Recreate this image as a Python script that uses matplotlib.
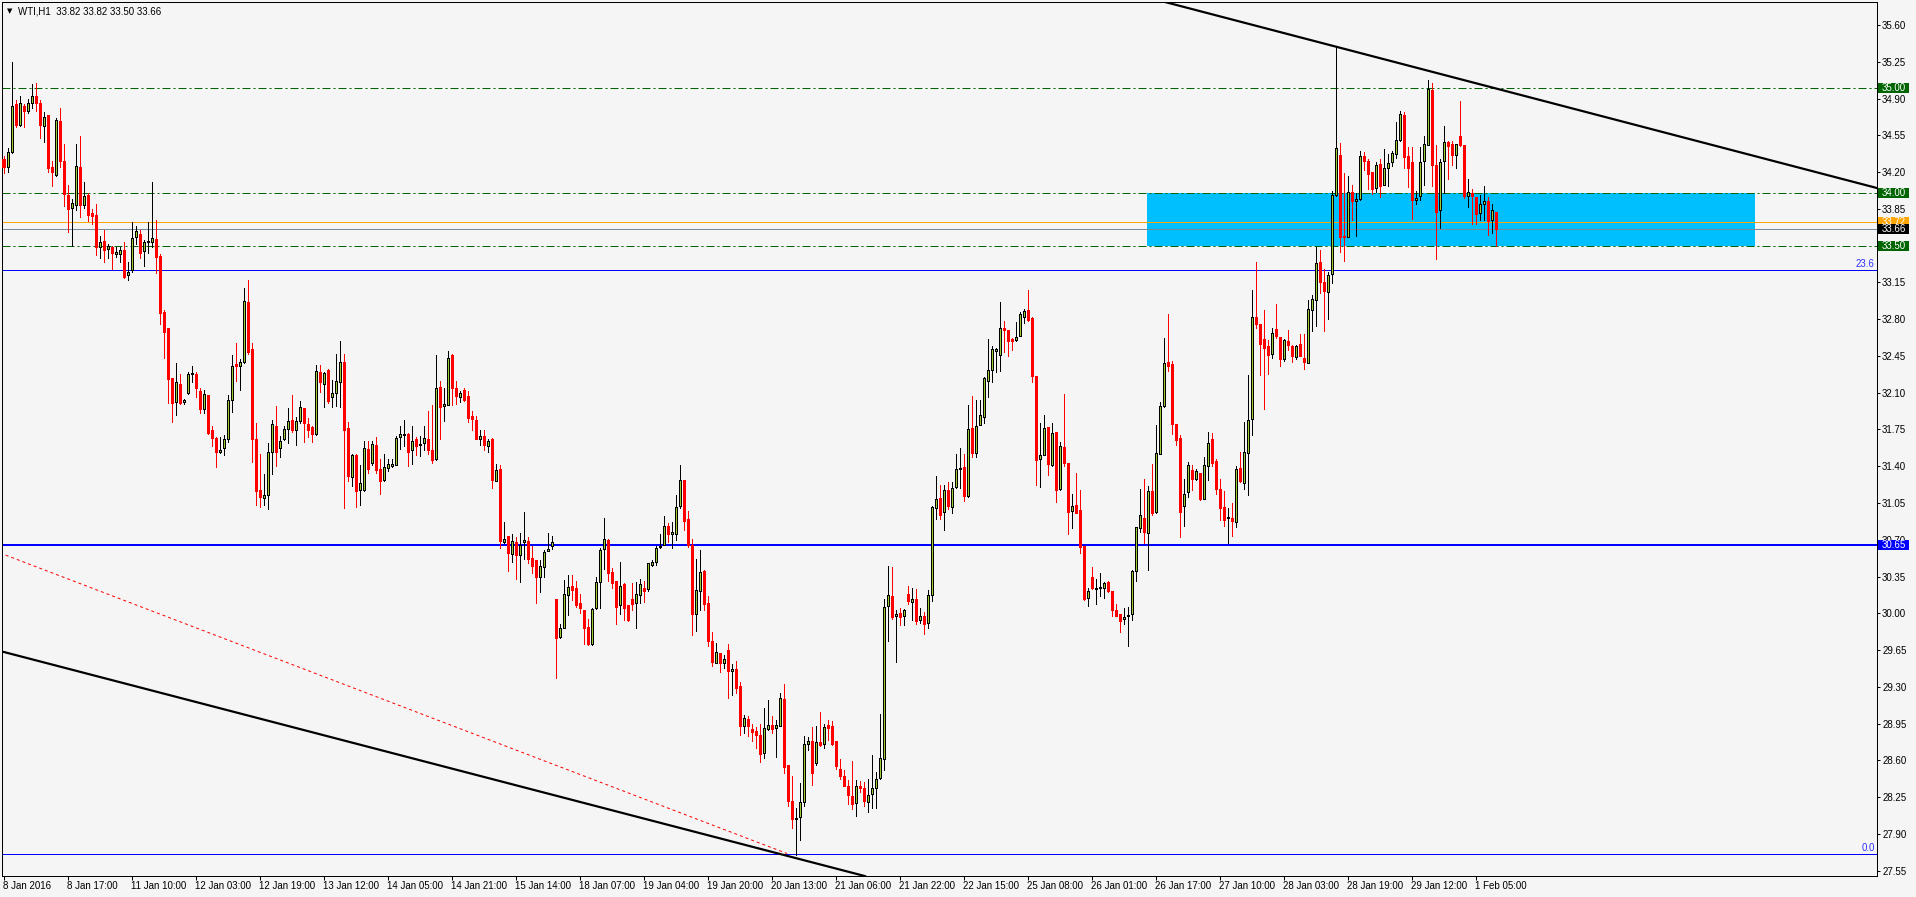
import numpy as np
import matplotlib
matplotlib.use('Agg')
import matplotlib.pyplot as plt
import matplotlib.transforms as mtransforms
from matplotlib.patches import Rectangle

# WTI H1, 374 barras (8 Jan 2016 -> 1 Feb 2016)
opens = [
    34.32, 34.25, 34.39, 34.85, 34.65, 34.83, 34.78, 34.86, 34.92, 34.86,
    34.64, 34.74, 34.25, 34.17, 34.69, 34.31, 33.98, 33.86, 33.89, 34.25,
    33.89, 33.98, 33.81, 33.79, 33.49, 33.54, 33.47, 33.49, 33.42, 33.42,
    33.46, 33.22, 33.27, 33.58, 33.61, 33.45, 33.53, 33.53, 33.56, 33.40,
    32.87, 32.72, 32.24, 32.01, 32.18, 32.01, 32.10, 32.28, 32.28, 32.12,
    31.94, 32.08, 31.74, 31.67, 31.54, 31.57, 31.66, 32.03, 32.37, 32.35,
    32.39, 32.96, 32.52, 31.66, 31.17, 31.10, 31.13, 31.54, 31.78, 31.57,
    31.66, 31.75, 31.84, 31.74, 31.83, 31.95, 31.80, 31.77, 31.71, 32.30,
    32.18, 32.32, 32.06, 32.10, 32.20, 32.39, 31.76, 31.30, 31.51, 31.17,
    31.17, 31.56, 31.43, 31.60, 31.37, 31.27, 31.38, 31.40, 31.41, 31.68,
    31.70, 31.71, 31.55, 31.66, 31.60, 31.62, 31.66, 31.55, 31.47, 32.15,
    31.97, 31.98, 32.46, 32.14, 32.06, 32.13, 32.07, 31.88, 31.84, 31.66,
    31.69, 31.59, 31.66, 31.26, 31.37, 30.68, 30.74, 30.56, 30.68, 30.55,
    30.68, 30.69, 30.53, 30.51, 30.35, 30.44, 30.59, 30.64, 30.14, 29.77,
    29.86, 30.17, 30.26, 30.24, 30.10, 30.03, 29.87, 29.71, 30.05, 30.30,
    30.61, 30.70, 30.39, 30.31, 30.08, 30.28, 30.08, 30.14, 30.10, 30.17,
    30.24, 30.23, 30.46, 30.49, 30.63, 30.65, 30.83, 30.75, 30.75, 31.02,
    31.27, 30.90, 30.65, 29.99, 30.21, 30.40, 30.10, 29.74, 29.53, 29.62,
    29.53, 29.65, 29.45, 29.47, 29.31, 28.93, 28.99, 28.90, 28.88, 28.84,
    28.67, 28.90, 28.94, 28.91, 28.93, 29.18, 28.56, 28.21, 28.04, 28.06,
    28.20, 28.76, 28.78, 28.57, 28.77, 28.76, 28.94, 28.93, 28.78, 28.52,
    28.45, 28.36, 28.26, 28.19, 28.36, 28.34, 28.20, 28.28, 28.34, 28.43,
    28.61, 30.07, 30.16, 29.97, 30.00, 29.97, 30.18, 30.11, 30.14, 29.94,
    29.97, 29.91, 30.17, 31.00, 31.10, 30.96, 31.17, 31.01, 31.20, 31.37,
    31.39, 31.12, 31.76, 31.53, 31.79, 31.87, 32.21, 32.32, 32.50, 32.46,
    32.72, 32.70, 32.61, 32.60, 32.64, 32.82, 32.89, 32.81, 32.26, 31.47,
    31.51, 31.77, 31.41, 31.73, 31.18, 31.58, 31.43, 30.97, 31.03, 30.98,
    30.64, 30.15, 30.35, 30.23, 30.24, 30.24, 30.30, 30.21, 30.03, 29.99,
    29.95, 29.97, 29.99, 30.40, 30.81, 30.91, 30.76, 31.16, 30.96, 31.52,
    31.97, 32.39, 32.37, 31.80, 31.67, 31.02, 31.15, 31.36, 31.28, 31.34,
    31.09, 31.40, 31.66, 31.45, 31.18, 31.01, 30.91, 30.91, 30.87, 31.38,
    31.24, 31.53, 31.85, 32.82, 32.75, 32.61, 32.54, 32.47, 32.71, 32.63,
    32.42, 32.59, 32.54, 32.44, 32.56, 32.43, 32.38, 32.89, 32.98, 33.34,
    33.15, 33.06, 33.23, 33.98, 34.36, 33.59, 33.58, 34.01, 33.92, 33.94,
    34.35, 34.31, 34.20, 34.05, 34.28, 34.08, 34.24, 34.30, 34.37, 34.51,
    34.74, 34.35, 34.30, 33.93, 33.97, 34.31, 34.46, 34.98, 34.27, 33.84,
    34.31, 34.49, 34.47, 34.36, 34.54, 34.46, 33.97, 34.00, 33.96, 33.81,
    33.90, 33.92, 33.74, 33.82]

highs = [
    34.35, 34.43, 35.25, 34.89, 34.92, 34.85, 34.90, 35.04, 35.05, 34.89,
    34.77, 34.74, 34.31, 34.71, 34.81, 34.47, 34.08, 33.94, 34.47, 34.54,
    34.11, 34.00, 33.85, 33.90, 33.59, 33.65, 33.52, 33.50, 33.49, 33.49,
    33.53, 33.34, 33.72, 33.69, 33.65, 33.55, 33.72, 34.11, 33.74, 33.42,
    32.89, 32.72, 32.24, 32.38, 32.28, 32.04, 32.30, 32.35, 32.30, 32.14,
    32.13, 32.08, 31.78, 31.68, 31.68, 31.70, 32.08, 32.46, 32.57, 32.42,
    33.10, 33.17, 32.57, 31.81, 31.52, 31.33, 31.62, 31.84, 31.97, 31.69,
    31.78, 31.95, 32.08, 31.87, 32.02, 31.95, 31.86, 31.78, 32.36, 32.36,
    32.30, 32.33, 32.22, 32.47, 32.59, 32.47, 31.82, 31.52, 31.52, 31.41,
    31.64, 31.64, 31.64, 31.68, 31.47, 31.52, 31.47, 31.47, 31.69, 31.78,
    31.84, 31.72, 31.78, 31.68, 31.69, 31.78, 31.93, 31.98, 32.46, 32.21,
    32.14, 32.50, 32.47, 32.21, 32.12, 32.14, 32.12, 31.93, 31.88, 31.74,
    31.74, 31.66, 31.67, 31.42, 31.41, 30.87, 30.74, 30.75, 30.73, 30.76,
    30.96, 30.73, 30.64, 30.51, 30.51, 30.60, 30.76, 30.74, 30.14, 29.90,
    30.32, 30.36, 30.36, 30.31, 30.18, 30.03, 29.95, 30.05, 30.35, 30.62,
    30.91, 30.71, 30.43, 30.31, 30.49, 30.29, 30.08, 30.29, 30.30, 30.33,
    30.31, 30.48, 30.51, 30.64, 30.75, 30.93, 30.86, 30.87, 31.13, 31.41,
    31.27, 30.97, 30.71, 30.52, 30.60, 30.41, 30.16, 29.82, 29.72, 29.62,
    29.60, 29.71, 29.52, 29.55, 29.35, 29.03, 29.02, 28.95, 28.92, 28.95,
    29.10, 29.17, 29.02, 28.98, 29.24, 29.33, 28.56, 28.45, 28.15, 28.38,
    28.83, 28.82, 28.92, 28.93, 29.06, 28.95, 28.98, 28.97, 28.78, 28.61,
    28.51, 28.41, 28.59, 28.41, 28.40, 28.39, 28.42, 28.65, 28.49, 29.04,
    30.14, 30.45, 30.44, 30.03, 30.05, 30.04, 30.26, 30.24, 30.23, 30.05,
    30.01, 30.22, 31.02, 31.31, 31.22, 31.22, 31.25, 31.25, 31.52, 31.57,
    31.52, 31.98, 32.07, 32.03, 32.03, 32.25, 32.61, 32.54, 32.53, 32.96,
    32.78, 32.70, 32.62, 32.77, 32.87, 32.90, 33.08, 32.82, 32.26, 31.81,
    31.89, 31.77, 31.81, 31.73, 31.63, 32.09, 31.43, 31.14, 31.34, 31.17,
    30.64, 30.24, 30.44, 30.33, 30.38, 30.30, 30.31, 30.21, 30.09, 29.99,
    30.05, 30.06, 30.41, 30.82, 31.18, 31.28, 31.21, 31.42, 31.79, 32.01,
    32.62, 32.85, 32.40, 31.80, 31.70, 31.28, 31.44, 31.41, 31.37, 31.34,
    31.49, 31.73, 31.72, 31.47, 31.28, 31.16, 31.00, 31.05, 31.40, 31.54,
    31.82, 32.27, 33.08, 33.34, 32.75, 32.89, 32.60, 32.72, 32.94, 32.63,
    32.61, 32.70, 32.55, 32.55, 32.66, 32.66, 32.98, 33.03, 33.49, 33.46,
    33.28, 33.25, 34.02, 35.39, 34.48, 34.19, 34.16, 34.08, 34.00, 34.40,
    34.39, 34.32, 34.20, 34.30, 34.32, 34.42, 34.37, 34.40, 34.68, 34.78,
    34.77, 34.44, 34.44, 34.02, 34.44, 34.54, 35.08, 35.05, 34.46, 34.32,
    34.64, 34.50, 34.50, 34.47, 34.88, 34.46, 34.13, 34.04, 33.96, 33.98,
    34.07, 33.96, 33.90, 33.82]

lows = [
    34.19, 34.20, 34.38, 34.63, 34.64, 34.63, 34.76, 34.81, 34.78, 34.52,
    34.49, 34.20, 34.07, 34.16, 34.25, 33.88, 33.63, 33.50, 33.84, 33.77,
    33.86, 33.73, 33.71, 33.41, 33.38, 33.34, 33.38, 33.28, 33.39, 33.34,
    33.19, 33.17, 33.25, 33.52, 33.38, 33.31, 33.43, 33.49, 33.24, 32.75,
    32.43, 32.00, 31.82, 31.89, 31.99, 31.99, 32.09, 32.20, 32.06, 31.91,
    31.91, 31.71, 31.59, 31.39, 31.53, 31.51, 31.63, 31.92, 32.21, 32.13,
    32.38, 32.47, 31.44, 31.03, 31.01, 31.03, 30.99, 31.33, 31.40, 31.49,
    31.65, 31.62, 31.73, 31.60, 31.81, 31.63, 31.68, 31.63, 31.70, 32.11,
    31.96, 32.00, 31.96, 31.97, 31.96, 31.00, 31.26, 31.21, 31.01, 31.03,
    31.16, 31.34, 31.41, 31.34, 31.14, 31.26, 31.35, 31.39, 31.41, 31.56,
    31.59, 31.40, 31.42, 31.51, 31.50, 31.55, 31.52, 31.43, 31.46, 31.66,
    31.83, 31.98, 31.98, 31.99, 32.01, 32.02, 31.82, 31.74, 31.66, 31.60,
    31.55, 31.54, 31.19, 31.26, 30.62, 30.67, 30.40, 30.49, 30.33, 30.30,
    30.52, 30.48, 30.38, 30.10, 30.20, 30.35, 30.59, 30.61, 29.38, 29.76,
    29.86, 29.98, 30.13, 30.06, 30.00, 29.71, 29.70, 29.70, 30.04, 30.05,
    30.42, 30.31, 30.24, 29.90, 29.99, 29.94, 29.93, 30.03, 29.86, 30.10,
    30.11, 30.21, 30.45, 30.46, 30.62, 30.65, 30.68, 30.62, 30.70, 31.00,
    30.79, 30.63, 29.79, 29.83, 30.03, 30.03, 29.69, 29.50, 29.53, 29.44,
    29.48, 29.19, 29.22, 29.24, 28.84, 28.86, 28.83, 28.78, 28.72, 28.58,
    28.62, 28.89, 28.86, 28.63, 28.93, 28.48, 28.17, 27.96, 27.70, 27.84,
    28.17, 28.70, 28.37, 28.56, 28.74, 28.72, 28.79, 28.75, 28.52, 28.42,
    28.36, 28.18, 28.14, 28.07, 28.30, 28.17, 28.11, 28.15, 28.15, 28.42,
    28.51, 29.74, 29.95, 29.54, 29.89, 29.89, 30.09, 29.94, 29.90, 29.91,
    29.80, 29.86, 30.12, 30.90, 30.90, 30.79, 30.99, 30.95, 31.19, 31.19,
    31.07, 31.11, 31.49, 31.49, 31.79, 31.81, 32.06, 32.20, 32.30, 32.31,
    32.49, 32.45, 32.51, 32.59, 32.64, 32.76, 32.78, 32.20, 31.22, 31.20,
    31.51, 31.32, 31.40, 31.06, 31.17, 31.40, 30.75, 30.81, 30.95, 30.57,
    30.13, 30.07, 30.23, 30.09, 30.16, 30.15, 30.20, 29.97, 29.97, 29.82,
    29.90, 29.69, 29.94, 30.31, 30.77, 30.67, 30.41, 30.94, 30.95, 31.52,
    31.96, 32.31, 31.71, 31.60, 30.73, 30.83, 31.11, 31.17, 31.27, 31.08,
    31.09, 31.27, 31.40, 31.14, 30.89, 30.83, 30.67, 30.74, 30.82, 31.25,
    31.18, 31.13, 31.70, 32.72, 32.27, 31.94, 32.28, 32.43, 32.62, 32.35,
    32.40, 32.51, 32.39, 32.42, 32.45, 32.33, 32.38, 32.69, 32.73, 33.05,
    32.69, 32.80, 33.14, 33.97, 33.44, 33.35, 33.58, 33.74, 33.59, 33.93,
    34.22, 34.04, 33.99, 34.01, 33.96, 34.08, 34.07, 34.26, 34.33, 34.50,
    34.24, 34.06, 33.75, 33.90, 33.93, 34.08, 34.46, 34.07, 33.37, 33.67,
    34.00, 34.13, 34.27, 34.24, 34.45, 33.95, 33.87, 33.71, 33.71, 33.74,
    33.74, 33.60, 33.62, 33.50]

closes = [
    34.25, 34.39, 34.83, 34.65, 34.86, 34.78, 34.86, 34.92, 34.86, 34.65,
    34.72, 34.24, 34.20, 34.70, 34.31, 33.99, 33.85, 33.91, 34.26, 33.89,
    33.97, 33.79, 33.78, 33.49, 33.53, 33.46, 33.50, 33.43, 33.44, 33.46,
    33.20, 33.25, 33.57, 33.64, 33.43, 33.53, 33.54, 33.57, 33.39, 32.86,
    32.68, 32.23, 32.00, 32.20, 32.00, 32.03, 32.28, 32.29, 32.14, 31.94,
    32.09, 31.72, 31.67, 31.54, 31.55, 31.66, 32.03, 32.35, 32.35, 32.39,
    32.97, 32.49, 31.66, 31.16, 31.11, 31.13, 31.54, 31.80, 31.54, 31.64,
    31.75, 31.83, 31.74, 31.83, 31.96, 31.81, 31.74, 31.71, 32.31, 32.20,
    32.29, 32.02, 32.10, 32.21, 32.39, 31.74, 31.31, 31.51, 31.16, 31.24,
    31.57, 31.37, 31.61, 31.36, 31.26, 31.39, 31.42, 31.42, 31.67, 31.71,
    31.71, 31.54, 31.64, 31.59, 31.61, 31.67, 31.55, 31.46, 32.14, 31.96,
    31.99, 32.43, 32.14, 32.07, 32.10, 32.03, 31.86, 31.85, 31.66, 31.69,
    31.60, 31.64, 31.27, 31.36, 30.69, 30.71, 30.57, 30.69, 30.55, 30.65,
    30.70, 30.52, 30.45, 30.35, 30.45, 30.58, 30.61, 30.68, 29.76, 29.86,
    30.18, 30.25, 30.22, 30.08, 30.05, 29.86, 29.71, 30.04, 30.30, 30.60,
    30.71, 30.38, 30.29, 30.06, 30.26, 30.05, 29.94, 30.09, 30.18, 30.28,
    30.21, 30.48, 30.49, 30.62, 30.64, 30.83, 30.75, 30.77, 31.01, 31.27,
    30.88, 30.65, 29.99, 30.22, 30.39, 30.09, 29.74, 29.54, 29.63, 29.53,
    29.56, 29.45, 29.47, 29.29, 28.93, 29.00, 28.93, 28.87, 28.84, 28.66,
    28.91, 28.94, 28.90, 28.94, 29.19, 28.54, 28.21, 28.04, 28.05, 28.20,
    28.76, 28.78, 28.48, 28.77, 28.75, 28.92, 28.91, 28.76, 28.55, 28.45,
    28.36, 28.27, 28.18, 28.36, 28.34, 28.21, 28.27, 28.34, 28.42, 28.62,
    30.06, 30.17, 29.96, 29.99, 29.96, 30.03, 30.12, 30.14, 29.93, 29.97,
    29.90, 30.17, 31.01, 31.09, 30.94, 31.17, 31.02, 31.19, 31.37, 31.38,
    31.12, 31.75, 31.53, 31.78, 31.89, 32.24, 32.32, 32.52, 32.52, 32.72,
    32.70, 32.59, 32.59, 32.63, 32.85, 32.88, 32.79, 32.26, 31.46, 31.51,
    31.76, 31.42, 31.72, 31.17, 31.59, 31.43, 30.96, 31.02, 30.95, 30.63,
    30.14, 30.21, 30.24, 30.24, 30.25, 30.29, 30.21, 30.03, 29.97, 29.93,
    29.96, 29.98, 30.40, 30.82, 30.94, 30.77, 31.16, 30.95, 31.53, 31.97,
    32.38, 32.35, 31.80, 31.65, 30.96, 31.14, 31.41, 31.28, 31.35, 31.09,
    31.41, 31.62, 31.43, 31.18, 31.00, 30.89, 30.92, 30.88, 31.37, 31.26,
    31.54, 31.84, 32.82, 32.75, 32.56, 32.53, 32.46, 32.67, 32.64, 32.42,
    32.60, 32.55, 32.45, 32.54, 32.45, 32.39, 32.90, 32.99, 33.33, 33.15,
    33.07, 33.22, 33.98, 34.43, 33.58, 33.58, 34.01, 33.92, 33.94, 34.35,
    34.31, 34.18, 34.04, 34.27, 34.07, 34.24, 34.29, 34.38, 34.51, 34.75,
    34.34, 34.24, 33.93, 33.95, 34.30, 34.47, 34.99, 34.27, 33.82, 34.30,
    34.49, 34.45, 34.36, 34.47, 34.46, 33.97, 34.01, 33.97, 33.80, 33.90,
    33.92, 33.73, 33.84, 33.66]

time_labels = ['8 Jan 2016', '8 Jan 17:00', '11 Jan 10:00', '12 Jan 03:00', '12 Jan 19:00',
               '13 Jan 12:00', '14 Jan 05:00', '14 Jan 21:00', '15 Jan 14:00', '18 Jan 07:00',
               '19 Jan 04:00', '19 Jan 20:00', '20 Jan 13:00', '21 Jan 06:00', '21 Jan 22:00',
               '22 Jan 15:00', '25 Jan 08:00', '26 Jan 01:00', '26 Jan 17:00', '27 Jan 10:00',
               '28 Jan 03:00', '28 Jan 19:00', '29 Jan 12:00', '1 Feb 05:00']
price_ticks = [27.55, 27.90, 28.25, 28.60, 28.95, 29.30, 29.65, 30.00, 30.35, 30.70, 31.05, 31.40,
               31.75, 32.10, 32.45, 32.80, 33.15, 33.50, 33.85, 34.20, 34.55, 34.90, 35.25, 35.60]

# niveles horizontales
green_levels = [35.00, 34.00, 33.50]
ask_level = 33.72
bid_level = 33.66
support_level = 30.65
fibo_levels = [33.265, 27.706]
fibo_names = ['23.6', '0.0']

# zona (rectangulo) y lineas de tendencia en (barra, precio)
zone_bars = [285.85, 437.85]
zone_prices = [33.50, 34.00]
trend_upper = ([290.35, 468.35], [35.819, 34.048])
trend_lower = ([-0.9, 215.35], [29.641, 27.498])
fibo_line = ([-0.9, 195.85], [30.574, 27.713])

plt.rcParams['font.family'] = ['Liberation Sans', 'DejaVu Sans']
BG = '#f5f5f5'
W, H = 1916, 897
fig = plt.figure(figsize=(W / 100, H / 100), dpi=100, facecolor=BG)
ax = fig.add_axes([2 / W, 21 / H, 1875 / W, 874 / H])
ax.set_facecolor(BG)
ax.set_xlim(-0.4, 468.35)
ax.set_ylim(27.499, 35.819)

PX = 0.72  # un pixel en puntos

# zona azul
ax.add_patch(Rectangle((zone_bars[0], zone_prices[0]), zone_bars[1] - zone_bars[0],
                       zone_prices[1] - zone_prices[0], facecolor='#00bfff', edgecolor='none', zorder=1))

# lineas horizontales
for lvl in green_levels:
    ax.axhline(lvl, color='#006400', lw=PX, dashes=(8, 3, 2, 3), zorder=2)
ax.axhline(ask_level, color='#ffa500', lw=PX, zorder=2)
ax.axhline(bid_level, color='#778899', lw=PX, zorder=2)
ax.axhline(support_level, color='#0000ff', lw=2 * PX, zorder=2)
for lvl, name in zip(fibo_levels, fibo_names):
    ax.axhline(lvl, color='#0000ff', lw=PX, zorder=2)
    ax.text(467.8, lvl + 0.01, name, color='#3030ff', fontsize=7, ha='right', va='bottom', zorder=2)

# lineas de tendencia
ax.plot(fibo_line[0], fibo_line[1], color='red', lw=PX, dashes=(3, 3), zorder=2)
ax.plot(trend_upper[0], trend_upper[1], color='black', lw=2.2 * PX, zorder=5)
ax.plot(trend_lower[0], trend_lower[1], color='black', lw=2.2 * PX, zorder=5)

# velas
o = np.array(opens)
h = np.array(highs)
l = np.array(lows)
c = np.array(closes)
x = np.arange(len(c))
up = c >= o
dn = ~up
body_low = np.minimum(o, c)
body_h = np.maximum(np.abs(c - o), 0.008)

ax.vlines(x[up], l[up], h[up], color='black', lw=PX, zorder=3, antialiased=False)
ax.vlines(x[dn], l[dn], h[dn], color='red', lw=PX, zorder=3, antialiased=False)
ax.bar(x[up], body_h[up], bottom=body_low[up], width=0.55, color='#9acd32',
       edgecolor='black', linewidth=PX, zorder=4, antialiased=False)
ax.bar(x[dn], body_h[dn], bottom=body_low[dn], width=0.55, color='red',
       edgecolor='red', linewidth=PX, zorder=4, antialiased=False)

# ejes
for s in ax.spines.values():
    s.set_linewidth(PX)
    s.set_color('black')
ax.yaxis.tick_right()
ax.set_yticks(price_ticks)
ax.set_yticklabels([f'{v:.2f}' for v in price_ticks])
ax.tick_params(axis='y', length=3 * PX, width=PX, pad=1.5, labelsize=7, colors='black')

tick_bars = [16 * k for k in range(len(time_labels))]
ax.set_xticks(tick_bars)
ax.set_xticklabels([])
ax.tick_params(axis='x', length=4 * PX, width=PX)
for b, lbl in zip(tick_bars, time_labels):
    ax.annotate(lbl, xy=(b, 0), xycoords=('data', 'axes fraction'), xytext=(-1 * PX, -10 * PX),
                textcoords='offset points', ha='left', va='center', fontsize=7, annotation_clip=False)

# etiquetas de precio en la escala
btrans = mtransforms.blended_transform_factory(ax.transAxes, ax.transData)
px_x = 1.0 / 1875
px_y = 1.0 / 105.05
boxes = [(35.00, '#006400'), (34.00, '#006400'), (33.50, '#006400'),
         (ask_level, '#ffa500'), (bid_level, '#000000'), (support_level, '#0000ff')]
for z, (lvl, col) in enumerate(boxes):
    ax.add_patch(Rectangle((1 + 0.7 * px_x, lvl - 5 * px_y), 31 * px_x, 10 * px_y, transform=btrans,
                           facecolor=col, edgecolor='none', clip_on=False, zorder=10 + 2 * z))
    ax.text(1 + 4.5 * px_x, lvl, f'{lvl:.2f}', transform=btrans, color='white', fontsize=7,
            ha='left', va='center', clip_on=False, zorder=11 + 2 * z)

# titulo
fig.text(6.5 / W, 1 - 11 / H, '\u25bc', fontsize=5, va='center', ha='left', family=['DejaVu Sans'])
fig.text(18 / W, 1 - 11 / H, 'WTI,H1  33.82 33.82 33.50 33.66', fontsize=7, va='center', ha='left')

plt.savefig('out.png', dpi=100, facecolor=BG)
